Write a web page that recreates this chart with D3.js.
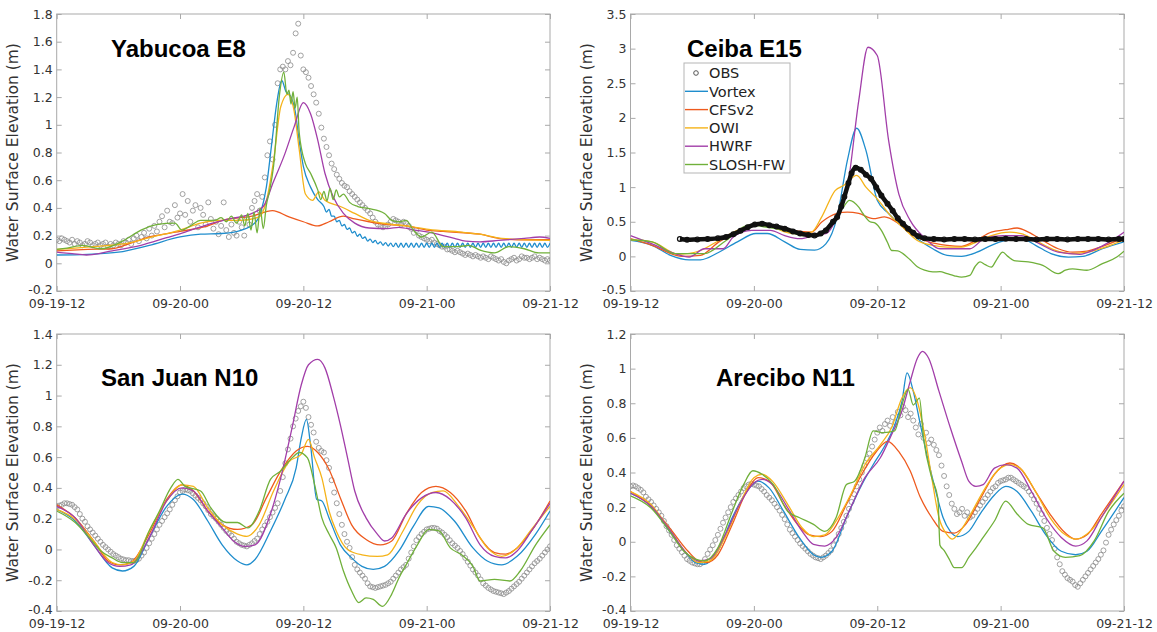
<!DOCTYPE html>
<html><head><meta charset="utf-8">
<script src="https://cdn.jsdelivr.net/npm/d3@7"></script>
<style>body{margin:0;background:#fff}</style>
</head><body><svg id="c" width="1157" height="632"></svg>
<script>
// ---------------- DATA (time in hours from 09-19 12:00) ----------------
const xTickHours = [0, 12, 24, 36, 48];
const xTickLabels = ["09-19-12", "09-20-00", "09-20-12", "09-21-00", "09-21-12"];
const seriesNames = ["Vortex", "CFSv2", "OWI", "HWRF", "SLOSH-FW"];
const stationNames = ["Yabucoa E8", "Ceiba E15", "San Juan N10", "Arecibo N11"];
const yTicks1 = [-0.2, 0, 0.2, 0.4, 0.6, 0.8, 1, 1.2, 1.4, 1.6, 1.8];
const yTicks2 = [-0.5, 0, 0.5, 1, 1.5, 2, 2.5, 3, 3.5];
const yTicks3 = [-0.4, -0.2, 0, 0.2, 0.4, 0.6, 0.8, 1, 1.2, 1.4];
const yTicks4 = [-0.4, -0.2, 0, 0.2, 0.4, 0.6, 0.8, 1, 1.2];

// ---- Yabucoa E8 ----
const p1ObsStep = 0.25;
const p1Obs = [.17,.16,.18,.17,.16,.15,.17,.14,.16,
 .15,.13,.14,.16,.15,.13,.14,.15,
 .13,.14,.15,.12,.14,.13,.15,.14,
 .13,.16,.15,.17,.14,.18,.20,.16,
 .19,.22,.18,.25,.20,.27,.23,.30,
 .34,.26,.38,.30,.29,.42,.33,.36,
 .50,.35,.45,.30,.38,.42,.26,.40,
 .35,.28,.44,.32,.25,.30,.21,.27,
 .44,.24,.19,.28,.22,.20,.30,.26,
 .20,.33,.28,.40,.45,.50,.38,.48,
 .62,.78,.88,.75,1.00,1.30,1.40,1.42,
 1.40,1.46,1.43,1.52,1.66,1.73,1.50,1.40,
 1.38,1.34,1.28,1.22,1.16,1.08,.98,.90,
 .84,.78,.72,.68,.64,.61,.58,.56,
 .55,.52,.50,.48,.46,.44,.42,.40,
 .38,.36,.33,.30,.28,.27,.26,.27,
 .28,.30,.32,.31,.30,.28,.30,.29,
 .27,.25,.22,.24,.20,.19,.18,.17,
 .16,.17,.15,.14,.13,.12,.12,.10,
 .10,.09,.08,.09,.08,.07,.06,.07,
 .06,.05,.06,.05,.04,.05,.04,.03,
 .05,.04,.03,.02,.03,.01,.00,.02,
 .03,.04,.02,.03,.05,.04,.04,.03,
 .04,.05,.03,.04,.03,.02,.03,.02];
const p1VortexHead = [[0,.06],[3,.065],[6,.08],[9,.13],[12,.19],[14,.21],[16,.215],[18,.24],[19.4,.30],[19.9,.38],[20.4,.55],[20.9,.85],[21.4,1.15],[21.9,1.32],[22.3,1.24],[22.8,1.2],[23.2,1.1],[23.6,.88],[24,.70],[24.7,.55],[25.4,.46]];
const p1VortexTailStart = 26, p1VortexTailStep = 0.25;
const p1VortexTail = [.41,.37,.39,.34,.34,.30,.31,.27,.28,.245,.255,.22,.23,.195,.21,.18,.19,.16,.175,.15,.165,.14,.155,.13,.15,.125,.145,.12,
 .145,.115,.145,.115,.145,.115,.145,.115,.145,.115,.145,.115,.145,.115,.145,.115,.145,.115,.145,.115,
 .145,.115,.145,.115,.145,.115,.145,.115,.145,.115,.145,.115,.145,.115,.145,.115,.145,.115,.145,.115,
 .145,.115,.145,.115,.145,.115,.145,.115,.145,.115,.145,.115,.145,.115,.145,.115,.145,.115,.145,.115,.145];
const p1CFS = [[0,.09],[3,.10],[5.4,.105],[7,.14],[9,.19],[12,.23],[14.7,.27],[16.1,.31],[19,.34],[21,.38],[22.6,.335],[24,.30],[25.4,.27],[26.5,.30],[27.9,.34],[29,.32],[30.4,.30],[32.2,.28],[34,.27],[36,.24],[37.6,.23],[41.2,.21],[43,.18],[44.8,.17],[48,.17]];
const p1OWI = [[0,.10],[3.6,.12],[7.2,.15],[9,.185],[12,.24],[14,.29],[15.8,.31],[17.9,.31],[19.7,.335],[20.4,.45],[21.1,.74],[21.8,1.13],[22.5,1.22],[23.1,1.10],[23.6,.82],[24.2,.50],[24.9,.455],[25.5,.515],[26.1,.455],[27.6,.41],[29,.36],[30.4,.31],[32.2,.285],[34,.27],[36.2,.245],[39.4,.225],[41.2,.21],[43.3,.18],[48,.165]];
const p1HWRF = [[0,.08],[1.5,.07],[2.9,.06],[5.4,.09],[8.2,.13],[10.7,.185],[12.5,.225],[14.7,.28],[16.8,.32],[19,.36],[20.1,.41],[21.1,.59],[22.2,.79],[23.1,.985],[24,1.16],[24.7,1.08],[25.4,.89],[26.1,.65],[26.9,.48],[27.9,.36],[29,.29],[30.4,.255],[32.2,.25],[33.3,.26],[34.8,.24],[36.2,.225],[37.6,.20],[38.7,.18],[39.8,.16],[41.2,.155],[43,.165],[45.5,.18],[47,.19],[48,.18]];
const p1SLOSH = [[0,.10],[1,.11],[2.5,.13],[4.3,.105],[6.4,.16],[8.2,.24],[9.7,.28],[11.5,.29],[12.2,.24],[13,.27],[14,.31],[15.4,.31],[16,.33],[16.5,.30],[17,.34],[17.5,.29],[18,.35],[18.3,.27],[18.6,.36],[18.9,.24],[19.2,.37],[19.5,.22],[19.8,.40],[20.1,.25],[20.4,.42],[20.7,.52],[21.1,.70],[21.7,1.23],[22.1,1.38],[22.4,1.22],[22.6,1.25],[22.8,1.15],[23,1.24],[23.2,1.12],[23.4,1.2],[23.6,.94],[24.2,.72],[24.7,.65],[25.4,.53],[25.7,.46],[26,.52],[26.3,.45],[26.6,.54],[26.9,.46],[27.2,.53],[27.5,.48],[27.9,.50],[28.5,.44],[29.3,.41],[30.4,.395],[31.9,.36],[32.6,.31],[33.3,.30],[34,.31],[34.7,.24],[35.5,.19],[36.5,.225],[37.6,.12],[39,.12],[40.1,.13],[41.2,.095],[42.6,.075],[44,.12],[45.5,.105],[46.9,.075],[48,.075]];

// ---- Ceiba E15 ----
const p2Obs = [[4.8,.25],[5.5,.24],[6.5,.245],[7.5,.25],[8.5,.26],[9.3,.28],[10,.32],[10.7,.37],[11.4,.42],[12.1,.46],[12.8,.47],[13.5,.45],[14.2,.43],[15,.40],[15.8,.36],[16.5,.33],[17.3,.31],[17.9,.30],[18.5,.33],[19,.375],[19.7,.5],[20.1,.57],[20.5,.72],[20.8,.86],[21.2,1.06],[21.5,1.2],[21.9,1.28],[22.4,1.25],[22.9,1.18],[23.4,1.12],[23.9,1.0],[24.4,.88],[25,.76],[25.5,.66],[26,.55],[26.5,.47],[27,.40],[27.5,.34],[28,.29],[28.6,.26],[29.5,.25],[30.5,.245],[31.5,.25],[32.5,.25],[33.5,.245],[34.5,.25],[35.5,.25],[36.5,.255],[37.5,.25],[38.5,.25],[39.5,.245],[40.5,.25],[41.5,.25],[42.5,.245],[43.5,.25],[44.5,.25],[45.5,.25],[46.5,.245],[47.5,.25],[48,.25]];
const p2Vortex = [[0,.23],[2.1,.16],[3.9,.015],[5.7,-.05],[6.8,-.05],[8.6,.06],[10.4,.21],[12.2,.33],[13.3,.33],[15,.21],[16.5,.10],[17.9,.09],[19,.18],[20.1,.57],[21.1,1.39],[22,1.85],[22.9,1.53],[24,.81],[25.1,.62],[26.5,.42],[27.9,.255],[29.4,.11],[30.8,.015],[32.2,0],[33.7,.06],[35.1,.16],[36.5,.23],[38,.255],[39.4,.16],[40.9,.04],[42.6,-.01],[44,0],[45.9,.11],[48,.21]];
const p2CFS = [[0,.255],[2.1,.16],[5,0],[6.8,.015],[8.6,.21],[10.4,.35],[12.2,.47],[14,.43],[15.8,.375],[17.6,.35],[18.6,.495],[20.1,.62],[21.1,.64],[22.2,.62],[23.6,.545],[24.7,.57],[26.1,.47],[27.2,.33],[29,.21],[30.8,.16],[32.2,.145],[33.7,.24],[35.1,.35],[36.5,.385],[37.6,.41],[38.7,.35],[40.1,.23],[41.6,.11],[43,.06],[44.4,.075],[45.9,.145],[48,.27]];
const p2OWI = [[0,.24],[2.1,.21],[4.7,.03],[6.8,.085],[8.6,.23],[10.4,.375],[12.2,.46],[13.6,.43],[15.8,.33],[17.6,.35],[18.6,.57],[19.9,.95],[20.8,1.03],[22,1.17],[22.9,1.0],[24,.83],[25.4,.57],[26.5,.42],[27.9,.23],[29.4,.16],[30.8,.135],[32.2,.135],[33.7,.21],[35.1,.30],[36.9,.35],[38,.33],[39.4,.23],[41.2,.095],[43,.04],[44.4,.06],[46.2,.135],[48,.24]];
const p2HWRF = [[0,.30],[2.1,.18],[4.3,.04],[5.7,-.01],[7.2,.11],[9,.11],[10,.28],[11.8,.375],[13.6,.375],[15,.30],[16.5,.255],[18.3,.32],[19,.33],[20.1,.57],[21.1,1.0],[22.2,2.25],[23.1,3.02],[24,2.9],[25.1,1.68],[26.1,.9],[27.2,.52],[28.7,.255],[30.1,.11],[31.5,.11],[33,.11],[34.4,.255],[36.2,.30],[38,.30],[39.8,.18],[41.6,.06],[43.7,.03],[45.1,.095],[46.6,.21],[48,.35]];
const p2SLOSH = [[0,.24],[2.1,.21],[4.3,.04],[5.7,.04],[7.2,.04],[9.3,.23],[11.5,.45],[13.3,.42],[15,.375],[16.8,.30],[18.3,.33],[19.7,.52],[20.6,.69],[21.3,.81],[22.2,.71],[22.6,.62],[23.3,.50],[23.8,.48],[24.4,.375],[25,.2],[25.4,.085],[26,.08],[26.5,.04],[27.2,-.05],[27.9,-.15],[28.6,-.2],[29.4,-.225],[30.1,-.22],[30.8,-.25],[31.5,-.28],[32.2,-.3],[33,-.275],[33.5,-.15],[34,-.08],[34.5,-.12],[35.1,-.155],[35.6,-.05],[36.2,.06],[36.7,0],[37.3,-.06],[38.7,-.08],[40.1,-.13],[41.6,-.25],[42.3,-.2],[43,-.18],[44.4,-.2],[45.9,-.105],[47.3,-.01],[48,.075]];

// ---- San Juan N10 ----
const p3ObsStep = 0.25;
const p3Obs = [.28,.285,.29,.30,.30,.295,.29,.275,.26,
 .23,.20,.18,.15,.13,.11,.09,.07,
 .05,.03,.015,.00,-.015,-.03,-.04,-.05,
 -.06,-.065,-.07,-.07,-.075,-.075,-.07,-.06,
 -.04,-.02,.01,.04,.07,.10,.13,.16,
 .185,.21,.235,.26,.29,.32,.345,.37,
 .38,.39,.385,.38,.365,.35,.335,.32,
 .30,.28,.255,.23,.215,.20,.18,.16,
 .14,.12,.105,.09,.07,.05,.04,.03,
 .025,.02,.03,.04,.055,.07,.10,.13,
 .155,.18,.21,.24,.27,.30,.38,.47,
 .56,.65,.72,.80,.85,.90,.93,.96,
 .92,.86,.81,.76,.70,.66,.64,.63,
 .58,.53,.45,.37,.30,.23,.16,.10,
 .05,.01,-.05,-.10,-.13,-.15,-.17,-.19,
 -.22,-.24,-.245,-.25,-.245,-.24,-.235,-.23,
 -.22,-.21,-.19,-.17,-.15,-.13,-.115,-.10,
 -.06,-.02,.02,.06,.08,.10,.115,.13,
 .135,.14,.14,.135,.12,.11,.095,.08,
 .06,.04,.025,.01,-.01,-.03,-.055,-.08,
 -.105,-.13,-.15,-.17,-.195,-.22,-.235,-.25,
 -.26,-.27,-.275,-.28,-.285,-.29,-.28,-.27,
 -.255,-.24,-.225,-.21,-.19,-.17,-.15,-.13,
 -.11,-.09,-.075,-.06,-.04,-.02,0,.02];
const p3Vortex = [[0,.26],[1.8,.185],[3.6,.03],[5.4,-.12],[6.4,-.14],[7.5,-.11],[9,.075],[10.7,.28],[12.2,.36],[13.3,.325],[14.7,.185],[16.1,.03],[17.6,-.075],[18.5,-.1],[19.3,-.065],[20.8,.12],[22.2,.325],[23.3,.53],[23.8,.725],[24.3,.845],[24.7,.68],[25.3,.325],[25.8,.315],[26.5,.205],[27.6,.03],[28.7,-.055],[29.7,-.11],[30.8,-.13],[31.9,-.11],[33.3,-.01],[34.7,.15],[36.2,.28],[37.2,.27],[38.7,.185],[40.5,.01],[41.9,-.075],[43.3,-.1],[44.8,-.045],[46.6,.1],[48,.25]];
const p3CFS = [[0,.29],[1.8,.205],[3.6,.055],[5,-.075],[6.1,-.1],[7.2,-.085],[9,.1],[10.7,.325],[12.2,.42],[13.3,.38],[14.7,.25],[16.1,.16],[17.6,.13],[19,.16],[20.4,.335],[21.8,.51],[23.3,.64],[24.4,.67],[25.4,.63],[26.5,.52],[27.6,.335],[28.7,.16],[30.1,.065],[31.5,.03],[32.6,.055],[34,.23],[35.5,.37],[36.9,.41],[38.3,.37],[39.8,.25],[41.2,.075],[42.6,-.02],[43.7,-.03],[44.8,.01],[46.2,.12],[48,.315]];
const p3OWI = [[0,.26],[1.8,.195],[3.6,.055],[5.4,-.085],[6.4,-.1],[7.5,-.075],[9,.12],[10.7,.315],[12.2,.42],[13.3,.41],[14.7,.27],[16.1,.16],[17.6,.1],[18.5,.085],[19.7,.16],[21.1,.38],[22.6,.57],[23.8,.62],[24.5,.715],[25.1,.595],[25.8,.465],[26.5,.25],[27.2,.12],[28.3,0],[29.7,-.035],[31.2,-.045],[32.2,-.035],[33.7,.12],[35.1,.29],[36.5,.37],[37.6,.38],[39,.29],[40.5,.15],[41.9,.01],[43.3,-.045],[44.8,.01],[46.2,.13],[48,.28]];
const p3HWRF = [[0,.28],[1.8,.205],[3.6,.03],[5,-.085],[6.1,-.11],[7.2,-.1],[9,.075],[10.7,.315],[12.2,.4],[13.3,.38],[14.7,.25],[16.1,.14],[17.2,.055],[18.3,.02],[19.3,.03],[20.8,.23],[21.8,.465],[22.9,.79],[23.8,1.07],[24.5,1.2],[25.4,1.235],[26.1,1.18],[26.9,1.0],[27.6,.81],[28.3,.595],[29,.38],[30.1,.205],[31.2,.1],[31.9,.055],[32.6,.075],[34,.23],[35.5,.335],[36.9,.37],[38.3,.325],[39.8,.205],[41.2,.03],[42.6,-.045],[43.7,-.055],[44.8,-.01],[46.2,.12],[48,.30]];
const p3SLOSH = [[0,.25],[1.8,.175],[3.2,.075],[4.3,-.01],[5.4,-.055],[6.4,-.085],[7.5,-.085],[9,.12],[10,.25],[11.1,.4],[11.8,.455],[12.5,.41],[14,.38],[15,.27],[16.5,.175],[17.6,.175],[18.6,.14],[19.7,.25],[20.8,.455],[21.8,.51],[22.9,.595],[23.6,.63],[24.4,.595],[25.1,.42],[25.8,.205],[26.5,.1],[27.2,.01],[27.9,-.14],[28.7,-.27],[29.4,-.345],[30.1,-.315],[30.8,-.325],[31.7,-.37],[32.6,-.29],[33.3,-.185],[34,-.1],[35.1,.03],[36.2,.13],[37.2,.12],[38.3,.01],[39.4,-.035],[40.5,-.11],[41.2,-.205],[42.6,-.195],[44.1,-.205],[45.1,-.14],[46.6,.03],[48,.16]];

// ---- Arecibo N11 ----
const p4ObsStep = 0.25;
const p4Obs = [.32,.325,.32,.31,.30,.285,.26,.245,.23,
 .21,.19,.17,.15,.12,.09,.065,.04,
 .01,-.02,-.04,-.06,-.08,-.10,-.11,-.12,
 -.125,-.13,-.13,-.12,-.10,-.07,-.045,-.02,
 .01,.04,.075,.11,.14,.17,.20,.23,
 .25,.27,.29,.31,.32,.33,.335,.33,
 .325,.32,.305,.29,.27,.255,.24,.22,
 .20,.18,.155,.13,.10,.07,.05,.03,
 .01,-.01,-.025,-.04,-.055,-.07,-.08,-.09,
 -.095,-.10,-.09,-.08,-.065,-.05,-.02,.01,
 .045,.08,.115,.15,.19,.23,.275,.32,
 .36,.40,.44,.48,.51,.55,.59,.63,
 .66,.64,.68,.70,.67,.72,.69,.75,
 .73,.78,.76,.72,.74,.70,.66,.62,
 .68,.60,.63,.57,.59,.56,.53,.50,
 .44,.38,.32,.27,.22,.19,.16,.17,
 .19,.15,.17,.14,.15,.17,.19,.21,
 .23,.25,.27,.29,.31,.32,.34,.35,
 .355,.36,.37,.37,.36,.35,.34,.33,
 .32,.31,.29,.27,.245,.22,.19,.16,
 .12,.08,.045,.01,-.04,-.09,-.13,-.17,
 -.19,-.21,-.22,-.23,-.25,-.26,-.24,-.22,
 -.20,-.18,-.16,-.14,-.12,-.10,-.075,-.05,
 -.005,.04,.07,.10,.125,.15,.18,.205];
const p4Vortex = [[0,.28],[2,.205],[3.8,.06],[5.6,-.08],[6.3,-.12],[7.2,-.13],[8.5,-.055],[9.9,.14],[11.3,.29],[12.4,.35],[13.5,.31],[14.9,.175],[16.4,.025],[17.8,-.075],[18.5,-.09],[19.6,-.055],[21,.14],[22.5,.33],[23.6,.445],[24.6,.54],[25.7,.675],[26.4,.81],[26.9,.975],[27.5,.87],[28.2,.675],[28.9,.485],[29.7,.29],[30.4,.14],[31.1,.06],[31.8,.03],[32.9,.06],[34,.16],[35.4,.27],[36.5,.32],[37.6,.29],[39,.175],[40.4,.04],[41.9,-.055],[43.3,-.075],[44.4,-.055],[45.8,.06],[48,.255]];
const p4CFS = [[0,.29],[2,.205],[3.8,.08],[5.6,-.055],[6.6,-.11],[7.4,-.12],[8.5,-.075],[9.9,.1],[11.3,.29],[12.4,.37],[13.5,.35],[14.9,.215],[16.4,.09],[17.4,.04],[18.5,.03],[19.6,.06],[21,.215],[22.5,.39],[23.9,.52],[25,.58],[26.1,.52],[27.2,.41],[28.2,.255],[29.3,.14],[30.4,.06],[31.5,.05],[32.6,.1],[34,.245],[35.4,.39],[36.9,.455],[37.9,.425],[39.4,.29],[40.8,.16],[42.3,.05],[43.3,.015],[44.4,.04],[45.8,.16],[48,.35]];
const p4OWI = [[0,.29],[2,.215],[3.8,.07],[5.6,-.075],[6.6,-.12],[7.7,-.11],[9.2,.025],[10.6,.215],[12,.37],[12.8,.39],[13.8,.35],[15.3,.215],[16.7,.08],[17.8,.03],[18.9,.04],[20,.12],[21.4,.27],[22.8,.445],[24.3,.56],[25.4,.66],[26.4,.83],[27.2,.89],[27.9,.81],[28.6,.62],[29.3,.37],[30,.14],[30.8,.04],[31.3,.015],[31.8,.04],[32.9,.14],[34.3,.29],[35.7,.41],[36.9,.445],[37.9,.425],[39.4,.29],[40.8,.14],[42.3,.04],[43.3,.015],[44.7,.06],[46.2,.175],[48,.33]];
const p4HWRF = [[0,.28],[2,.205],[3.8,.07],[5.6,-.075],[6.6,-.11],[7.7,-.1],[9.2,.04],[10.6,.215],[12,.34],[12.8,.36],[13.8,.33],[15.3,.195],[16.7,.06],[17.8,-.015],[18.9,-.025],[20,.025],[21.4,.195],[22.8,.37],[24.3,.485],[25.4,.62],[26.4,.755],[27.2,.925],[27.9,1.06],[28.4,1.1],[29,1.06],[30,.87],[31.1,.66],[32.2,.465],[32.9,.35],[33.6,.32],[34.3,.33],[35.4,.425],[36.5,.445],[37.6,.425],[39,.29],[40.4,.14],[41.9,.025],[43.3,-.025],[44.4,.005],[45.8,.14],[48,.35]];
const p4SLOSH = [[0,.265],[2,.195],[3.8,.06],[5.2,-.055],[6.3,-.1],[7.2,-.11],[8.5,-.035],[9.9,.175],[11,.33],[11.9,.41],[12.8,.39],[13.9,.33],[15.3,.175],[16.4,.14],[17.8,.1],[18.9,.06],[20,.14],[21,.33],[21.8,.35],[22.8,.485],[23.6,.64],[24.6,.63],[25.7,.64],[26.4,.79],[27,.88],[27.5,.79],[28.1,.83],[28.5,.6],[29.3,.37],[29.9,.25],[30.1,-.02],[30.5,-.05],[31,-.1],[31.5,-.15],[32.2,-.15],[32.9,-.09],[33.6,-.035],[34.3,.025],[35.4,.12],[36.5,.235],[37.6,.16],[38.7,.1],[40.1,.08],[41.2,-.055],[42.3,-.09],[43.7,-.08],[45.1,.005],[46.5,.175],[48,.28]];

// ---------------- LAYOUT / STYLE ----------------
const seriesColors = ["#1f8dcd", "#ee5a1e", "#f5b319", "#a23ea9", "#70b03a"];
const obsFromStep = (vals, step, start = 0) => vals.map((v, i) => [start + i * step, v]);
const p1Vortex = p1VortexHead.concat(obsFromStep(p1VortexTail, p1VortexTailStep, p1VortexTailStart));

const panels = [
  {title: stationNames[0], yDomain: [-0.2, 1.8], yTicks: yTicks1, box: [56.7, 14, 550, 291], tx: 111, ty: 57,
   obs: obsFromStep(p1Obs, p1ObsStep), obsStyle: "gray", models: [p1Vortex, p1CFS, p1OWI, p1HWRF, p1SLOSH]},
  {title: stationNames[1], yDomain: [-0.5, 3.5], yTicks: yTicks2, box: [630.5, 14, 1124, 291], tx: 687, ty: 57,
   obs: p2Obs, obsStyle: "black", models: [p2Vortex, p2CFS, p2OWI, p2HWRF, p2SLOSH], legend: true},
  {title: stationNames[2], yDomain: [-0.4, 1.4], yTicks: yTicks3, box: [56.7, 334, 550, 611], tx: 101, ty: 386,
   obs: obsFromStep(p3Obs, p3ObsStep), obsStyle: "gray", models: [p3Vortex, p3CFS, p3OWI, p3HWRF, p3SLOSH]},
  {title: stationNames[3], yDomain: [-0.4, 1.2], yTicks: yTicks4, box: [630.5, 334, 1124, 611], tx: 716, ty: 386,
   obs: obsFromStep(p4Obs, p4ObsStep), obsStyle: "gray", models: [p4Vortex, p4CFS, p4OWI, p4HWRF, p4SLOSH]}
];

const svg = d3.select("#c");
const tickFont = "12.5px 'DejaVu Sans'";
const axisColor = "#a9a9a9";
const textColor = "#333";
const fmtY = d => (Math.round(d * 10) / 10).toString();

panels.forEach((p, pi) => {
  const [L, T, R, B] = p.box;
  const x = d3.scaleLinear().domain([0, 48]).range([L, R]);
  const y = d3.scaleLinear().domain(p.yDomain).range([B, T]);
  const g = svg.append("g");
  const clipId = "clip" + pi;
  g.append("clipPath").attr("id", clipId).append("rect")
    .attr("x", L).attr("y", T).attr("width", R - L).attr("height", B - T);

  const styleAxis = (sel) => {
    sel.select(".domain").remove();
    sel.selectAll("line").attr("stroke", axisColor);
    sel.selectAll("text").attr("fill", textColor).style("font", tickFont);
  };
  const yAxisG = g.append("g").attr("transform", `translate(${L},0)`)
    .call(d3.axisLeft(y).tickValues(p.yTicks).tickFormat(fmtY).tickSize(-5).tickPadding(4)).call(styleAxis);
  // lowest y label sits just above the date labels (as in the reference)
  yAxisG.selectAll(".tick text").filter(d => d === p.yDomain[0]).attr("dy", "0.2em");
  g.append("g").attr("transform", `translate(${R},0)`)
    .call(d3.axisRight(y).tickValues(p.yTicks).tickFormat("").tickSize(-5)).call(styleAxis);
  g.append("g").attr("transform", `translate(0,${B})`)
    .call(d3.axisBottom(x).tickValues(xTickHours).tickFormat((d, i) => xTickLabels[i]).tickSize(-5).tickPadding(8)).call(styleAxis);
  g.append("g").attr("transform", `translate(0,${T})`)
    .call(d3.axisTop(x).tickValues(xTickHours).tickFormat("").tickSize(-5)).call(styleAxis);
  g.append("rect").attr("x", L).attr("y", T).attr("width", R - L).attr("height", B - T)
    .attr("fill", "none").attr("stroke", axisColor).attr("stroke-width", 1);

  // y label
  g.append("text").attr("transform", `translate(${L - 39},${(T + B) / 2}) rotate(-90)`)
    .attr("text-anchor", "middle").attr("fill", textColor)
    .style("font", "15.5px 'DejaVu Sans'").text("Water Surface Elevation (m)");

  const plot = g.append("g").attr("clip-path", `url(#${clipId})`);
  const line = d3.line().x(d => x(d[0])).y(d => y(d[1])).curve(d3.curveMonotoneX);

  const drawObs = () => {
    if (p.obsStyle === "black") {
      plot.append("path").datum(p.obs).attr("d", line).attr("fill", "none")
        .attr("stroke", "#111").attr("stroke-width", 4.5).attr("stroke-linejoin", "round");
      plot.selectAll(".ob").data(p.obs).join("circle").attr("class", "ob")
        .attr("cx", d => x(d[0])).attr("cy", d => y(d[1])).attr("r", 2.4)
        .attr("fill", "none").attr("stroke", "#111").attr("stroke-width", 1.2);
    } else {
      plot.selectAll(".ob").data(p.obs).join("circle").attr("class", "ob")
        .attr("cx", d => x(d[0])).attr("cy", d => y(d[1])).attr("r", 2.5)
        .attr("fill", "none").attr("stroke", "#8a8a8a").attr("stroke-width", 0.8);
    }
  };
  if (p.obsStyle !== "black") drawObs();
  p.models.forEach((s, si) => {
    plot.append("path").datum(s).attr("d", line).attr("fill", "none")
      .attr("stroke", seriesColors[si]).attr("stroke-width", 1.3).attr("stroke-linejoin", "round");
  });
  if (p.obsStyle === "black") drawObs();

  g.append("text").attr("x", p.tx).attr("y", p.ty).attr("fill", "#000")
    .style("font", "bold 24px 'Liberation Sans'").text(p.title);

  if (p.legend) {
    const lx = 684, ly = 63, lw = 106, lh = 110, rowH = 18.3;
    const lg = g.append("g");
    lg.append("rect").attr("x", lx).attr("y", ly).attr("width", lw).attr("height", lh)
      .attr("fill", "#fff").attr("stroke", "#b5b5b5");
    const names = ["OBS"].concat(seriesNames);
    names.forEach((n, i) => {
      const cy = ly + 10 + i * rowH;
      if (i === 0) {
        lg.append("circle").attr("cx", lx + 12).attr("cy", cy).attr("r", 2.3)
          .attr("fill", "none").attr("stroke", "#555").attr("stroke-width", 1);
      } else {
        lg.append("line").attr("x1", lx + 1).attr("x2", lx + 24).attr("y1", cy).attr("y2", cy)
          .attr("stroke", seriesColors[i - 1]).attr("stroke-width", 1.4);
      }
      lg.append("text").attr("x", lx + 25).attr("y", cy).attr("dy", "0.36em")
        .attr("fill", "#222").style("font", "14.5px 'DejaVu Sans'").text(n);
    });
  }
});
</script>
</body></html>
